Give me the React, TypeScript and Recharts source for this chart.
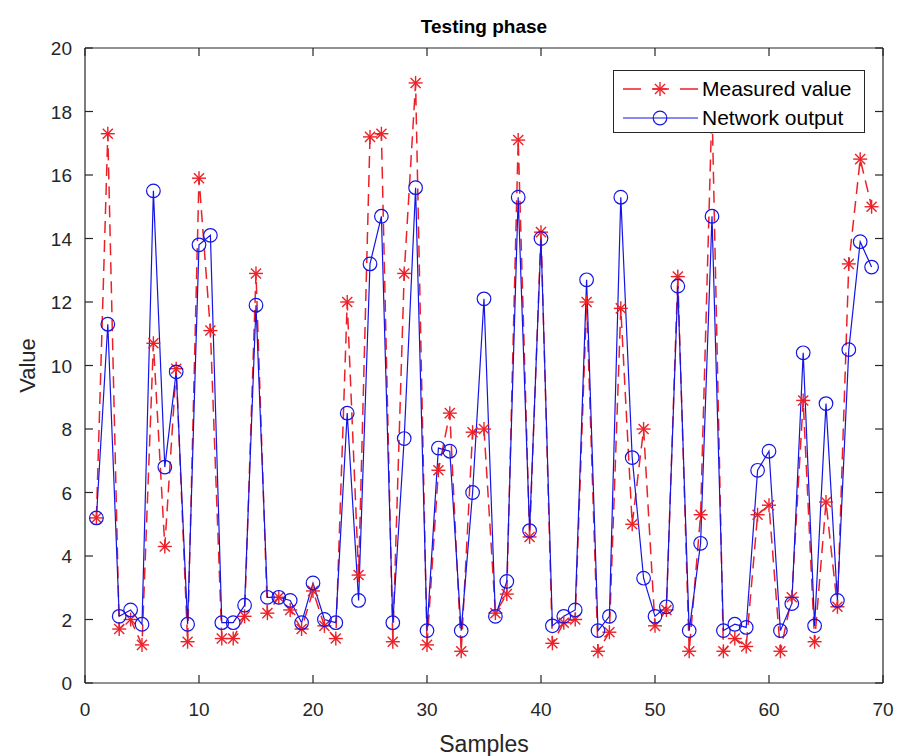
import React from 'react'
import { LineChart, Line, XAxis, YAxis, Legend, Label, ReferenceLine } from 'recharts'

const samples = [
  1, 2, 3, 4, 5, 6, 7, 8, 9, 10, 11, 12, 13, 14, 15, 16, 17, 18, 19, 20, 21, 22, 23,
  24, 25, 26, 27, 28, 29, 30, 31, 32, 33, 34, 35, 36, 37, 38, 39, 40, 41, 42, 43, 44,
  45, 46, 47, 48, 49, 50, 51, 52, 53, 54, 55, 56, 57, 58, 59, 60, 61, 62, 63, 64, 65,
  66, 67, 68, 69,
]

const measured = [
  5.2, 17.3, 1.7, 2.0, 1.2, 10.7, 4.3, 9.9, 1.3, 15.9, 11.1, 1.4, 1.4, 2.1, 12.9, 2.2,
  2.7, 2.3, 1.7, 2.9, 1.8, 1.4, 12.0, 3.4, 17.2, 17.3, 1.3, 12.9, 18.9, 1.2, 6.7, 8.5,
  1.0, 7.9, 8.0, 2.2, 2.8, 17.1, 4.6, 14.2, 1.25, 1.9, 2.0, 12.0, 1.0, 1.6, 11.8, 5.0,
  8.0, 1.8, 2.3, 12.8, 1.0, 5.3, 18.2, 1.0, 1.4, 1.15, 5.3, 5.6, 1.0, 2.7, 8.9, 1.3,
  5.7, 2.4, 13.2, 16.5, 15.0,
]

const network = [
  5.2, 11.3, 2.1, 2.3, 1.85, 15.5, 6.8, 9.8, 1.85, 13.8, 14.1, 1.9, 1.9, 2.45, 11.9,
  2.7, 2.7, 2.6, 1.9, 3.15, 2.0, 1.9, 8.5, 2.6, 13.2, 14.7, 1.9, 7.7, 15.6, 1.65, 7.4,
  7.3, 1.65, 6.0, 12.1, 2.1, 3.2, 15.3, 4.8, 14.0, 1.8, 2.1, 2.3, 12.7, 1.65, 2.1,
  15.3, 7.1, 3.3, 2.1, 2.4, 12.5, 1.65, 4.4, 14.7, 1.65, 1.85, 1.75, 6.7, 7.3, 1.65,
  2.5, 10.4, 1.8, 8.8, 2.6, 10.5, 13.9, 13.1,
]

const xTicks = [0, 10, 20, 30, 40, 50, 60, 70]
const yTicks = [0, 2, 4, 6, 8, 10, 12, 14, 16, 18, 20]

const data = samples.map((x, i) => ({ x, measured: measured[i], network: network[i] }))

const X_MIN = 0
const X_MAX = 70
const Y_MIN = 0
const Y_MAX = 20
// inward tick length expressed in axis units (about 8px each way)
const X_TICK_UNITS = 0.7
const Y_TICK_UNITS = 0.25

const AXIS = '#262626'
const RED = '#ec2128'
const BLUE = '#1414e6'
const FONT = 'Liberation Sans, Arial, Helvetica, sans-serif'

// MATLAB style '*' marker
const Star = (props: any) => {
  const { cx, cy } = props
  if (cx == null || cy == null) return null
  const s = 7
  const d = s * 0.72
  return (
    <g stroke={RED} strokeWidth={1.4} fill="none">
      <line x1={cx - s} y1={cy} x2={cx + s} y2={cy} />
      <line x1={cx} y1={cy - s} x2={cx} y2={cy + s} />
      <line x1={cx - d} y1={cy - d} x2={cx + d} y2={cy + d} />
      <line x1={cx - d} y1={cy + d} x2={cx + d} y2={cy - d} />
    </g>
  )
}

// MATLAB style 'o' marker
const Ring = (props: any) => {
  const { cx, cy } = props
  if (cx == null || cy == null) return null
  return <circle cx={cx} cy={cy} r={6.8} fill="none" stroke={BLUE} strokeWidth={1.2} />
}

const BottomTick = ({ x, y, payload }: any) => (
  <text x={x} y={y + 33} textAnchor="middle" fill={AXIS} fontSize={19} fontFamily={FONT}>
    {payload.value}
  </text>
)

const LeftTick = ({ x, y, payload }: any) => (
  <text x={x - 13} y={y + 7} textAnchor="end" fill={AXIS} fontSize={19} fontFamily={FONT}>
    {payload.value}
  </text>
)

const legendItems = [
  { name: 'Measured value', kind: 'star' },
  { name: 'Network output', kind: 'ring' },
]

const LegendBox = () => (
  <div
    style={{
      width: 252,
      height: 63,
      border: `1px solid ${AXIS}`,
      background: '#fff',
      fontFamily: FONT,
      fontSize: 21,
      color: '#000',
      boxSizing: 'border-box',
      padding: '3px 0 0 7px',
      whiteSpace: 'nowrap',
    }}
  >
    {legendItems.map((item) => (
      <div key={item.name} style={{ display: 'flex', alignItems: 'center', height: 29 }}>
        <svg width={80} height={20} style={{ flex: 'none' }}>
          {item.kind === 'star' ? (
            <>
              <line x1={2} y1={10} x2={77} y2={10} stroke={RED} strokeWidth={1.5} strokeDasharray="18 11 17 11 18" />
              <Star cx={39} cy={10} />
            </>
          ) : (
            <>
              <line x1={2} y1={10} x2={77} y2={10} stroke={BLUE} strokeWidth={1.2} />
              <Ring cx={39} cy={10} />
            </>
          )}
        </svg>
        <span style={{ marginLeft: 1 }}>{item.name}</span>
      </div>
    ))}
  </div>
)

const axisCommon = {
  tickSize: 0,
  tickMargin: 0,
  tickLine: false,
  axisLine: { stroke: AXIS, strokeWidth: 1.2 },
  interval: 0 as const,
}

const frameStroke = { stroke: AXIS, strokeWidth: 1.2, ifOverflow: 'visible' as const }

export default function App() {
  return (
    <div style={{ position: 'relative', width: 901, height: 756, background: '#fff' }}>
      <style>{'body{margin:0;background:#fff}'}</style>
      <div
        style={{
          position: 'absolute',
          top: 16,
          left: 0,
          width: 968,
          textAlign: 'center',
          fontFamily: FONT,
          fontWeight: 'bold',
          fontSize: 19,
          color: '#000',
          zIndex: 2,
        }}
      >
        Testing phase
      </div>
      <LineChart
        width={901}
        height={756}
        data={data}
        margin={{ top: 48, right: 18, bottom: 0, left: 0 }}
      >
        <XAxis
          dataKey="x"
          type="number"
          domain={[X_MIN, X_MAX]}
          ticks={xTicks}
          height={73}
          tick={<BottomTick />}
          {...axisCommon}
        >
          <Label
            value="Samples"
            position="insideBottom"
            offset={4}
            fill={AXIS}
            fontSize={23}
            fontFamily={FONT}
          />
        </XAxis>
        <YAxis
          type="number"
          domain={[Y_MIN, Y_MAX]}
          ticks={yTicks}
          width={85}
          tick={<LeftTick />}
          {...axisCommon}
        >
          <Label
            content={({ viewBox }: any) => {
              const cx = 27
              const cy = viewBox.y + viewBox.height / 2
              return (
                <text
                  x={cx}
                  y={cy}
                  transform={`rotate(-90 ${cx} ${cy})`}
                  textAnchor="middle"
                  dominantBaseline="central"
                  fill={AXIS}
                  fontSize={22}
                  fontFamily={FONT}
                >
                  Value
                </text>
              )
            }}
          />
        </YAxis>
        {/* top and right edges of the box */}
        <ReferenceLine y={Y_MAX} {...frameStroke} />
        <ReferenceLine x={X_MAX} {...frameStroke} />
        {/* inward MATLAB-style ticks on all four sides */}
        {xTicks.map((t) => (
          <ReferenceLine
            key={`xb${t}`}
            segment={[{ x: t, y: Y_MIN }, { x: t, y: Y_MIN + Y_TICK_UNITS }]}
            {...frameStroke}
          />
        ))}
        {xTicks.map((t) => (
          <ReferenceLine
            key={`xt${t}`}
            segment={[{ x: t, y: Y_MAX }, { x: t, y: Y_MAX - Y_TICK_UNITS }]}
            {...frameStroke}
          />
        ))}
        {yTicks.map((t) => (
          <ReferenceLine
            key={`yl${t}`}
            segment={[{ x: X_MIN, y: t }, { x: X_MIN + X_TICK_UNITS, y: t }]}
            {...frameStroke}
          />
        ))}
        {yTicks.map((t) => (
          <ReferenceLine
            key={`yr${t}`}
            segment={[{ x: X_MAX, y: t }, { x: X_MAX - X_TICK_UNITS, y: t }]}
            {...frameStroke}
          />
        ))}
        <Legend
          layout="vertical"
          align="center"
          verticalAlign="middle"
          content={<LegendBox />}
          wrapperStyle={{ position: 'absolute', top: 70, left: 613, width: 252, zIndex: 3 }}
        />
        <Line
          dataKey="measured"
          name="Measured value"
          type="linear"
          stroke={RED}
          strokeWidth={1.5}
          strokeDasharray="12 7"
          dot={<Star />}
          activeDot={false}
          isAnimationActive={false}
        />
        <Line
          dataKey="network"
          name="Network output"
          type="linear"
          stroke={BLUE}
          strokeWidth={1.2}
          dot={<Ring />}
          activeDot={false}
          isAnimationActive={false}
        />
      </LineChart>
    </div>
  )
}
